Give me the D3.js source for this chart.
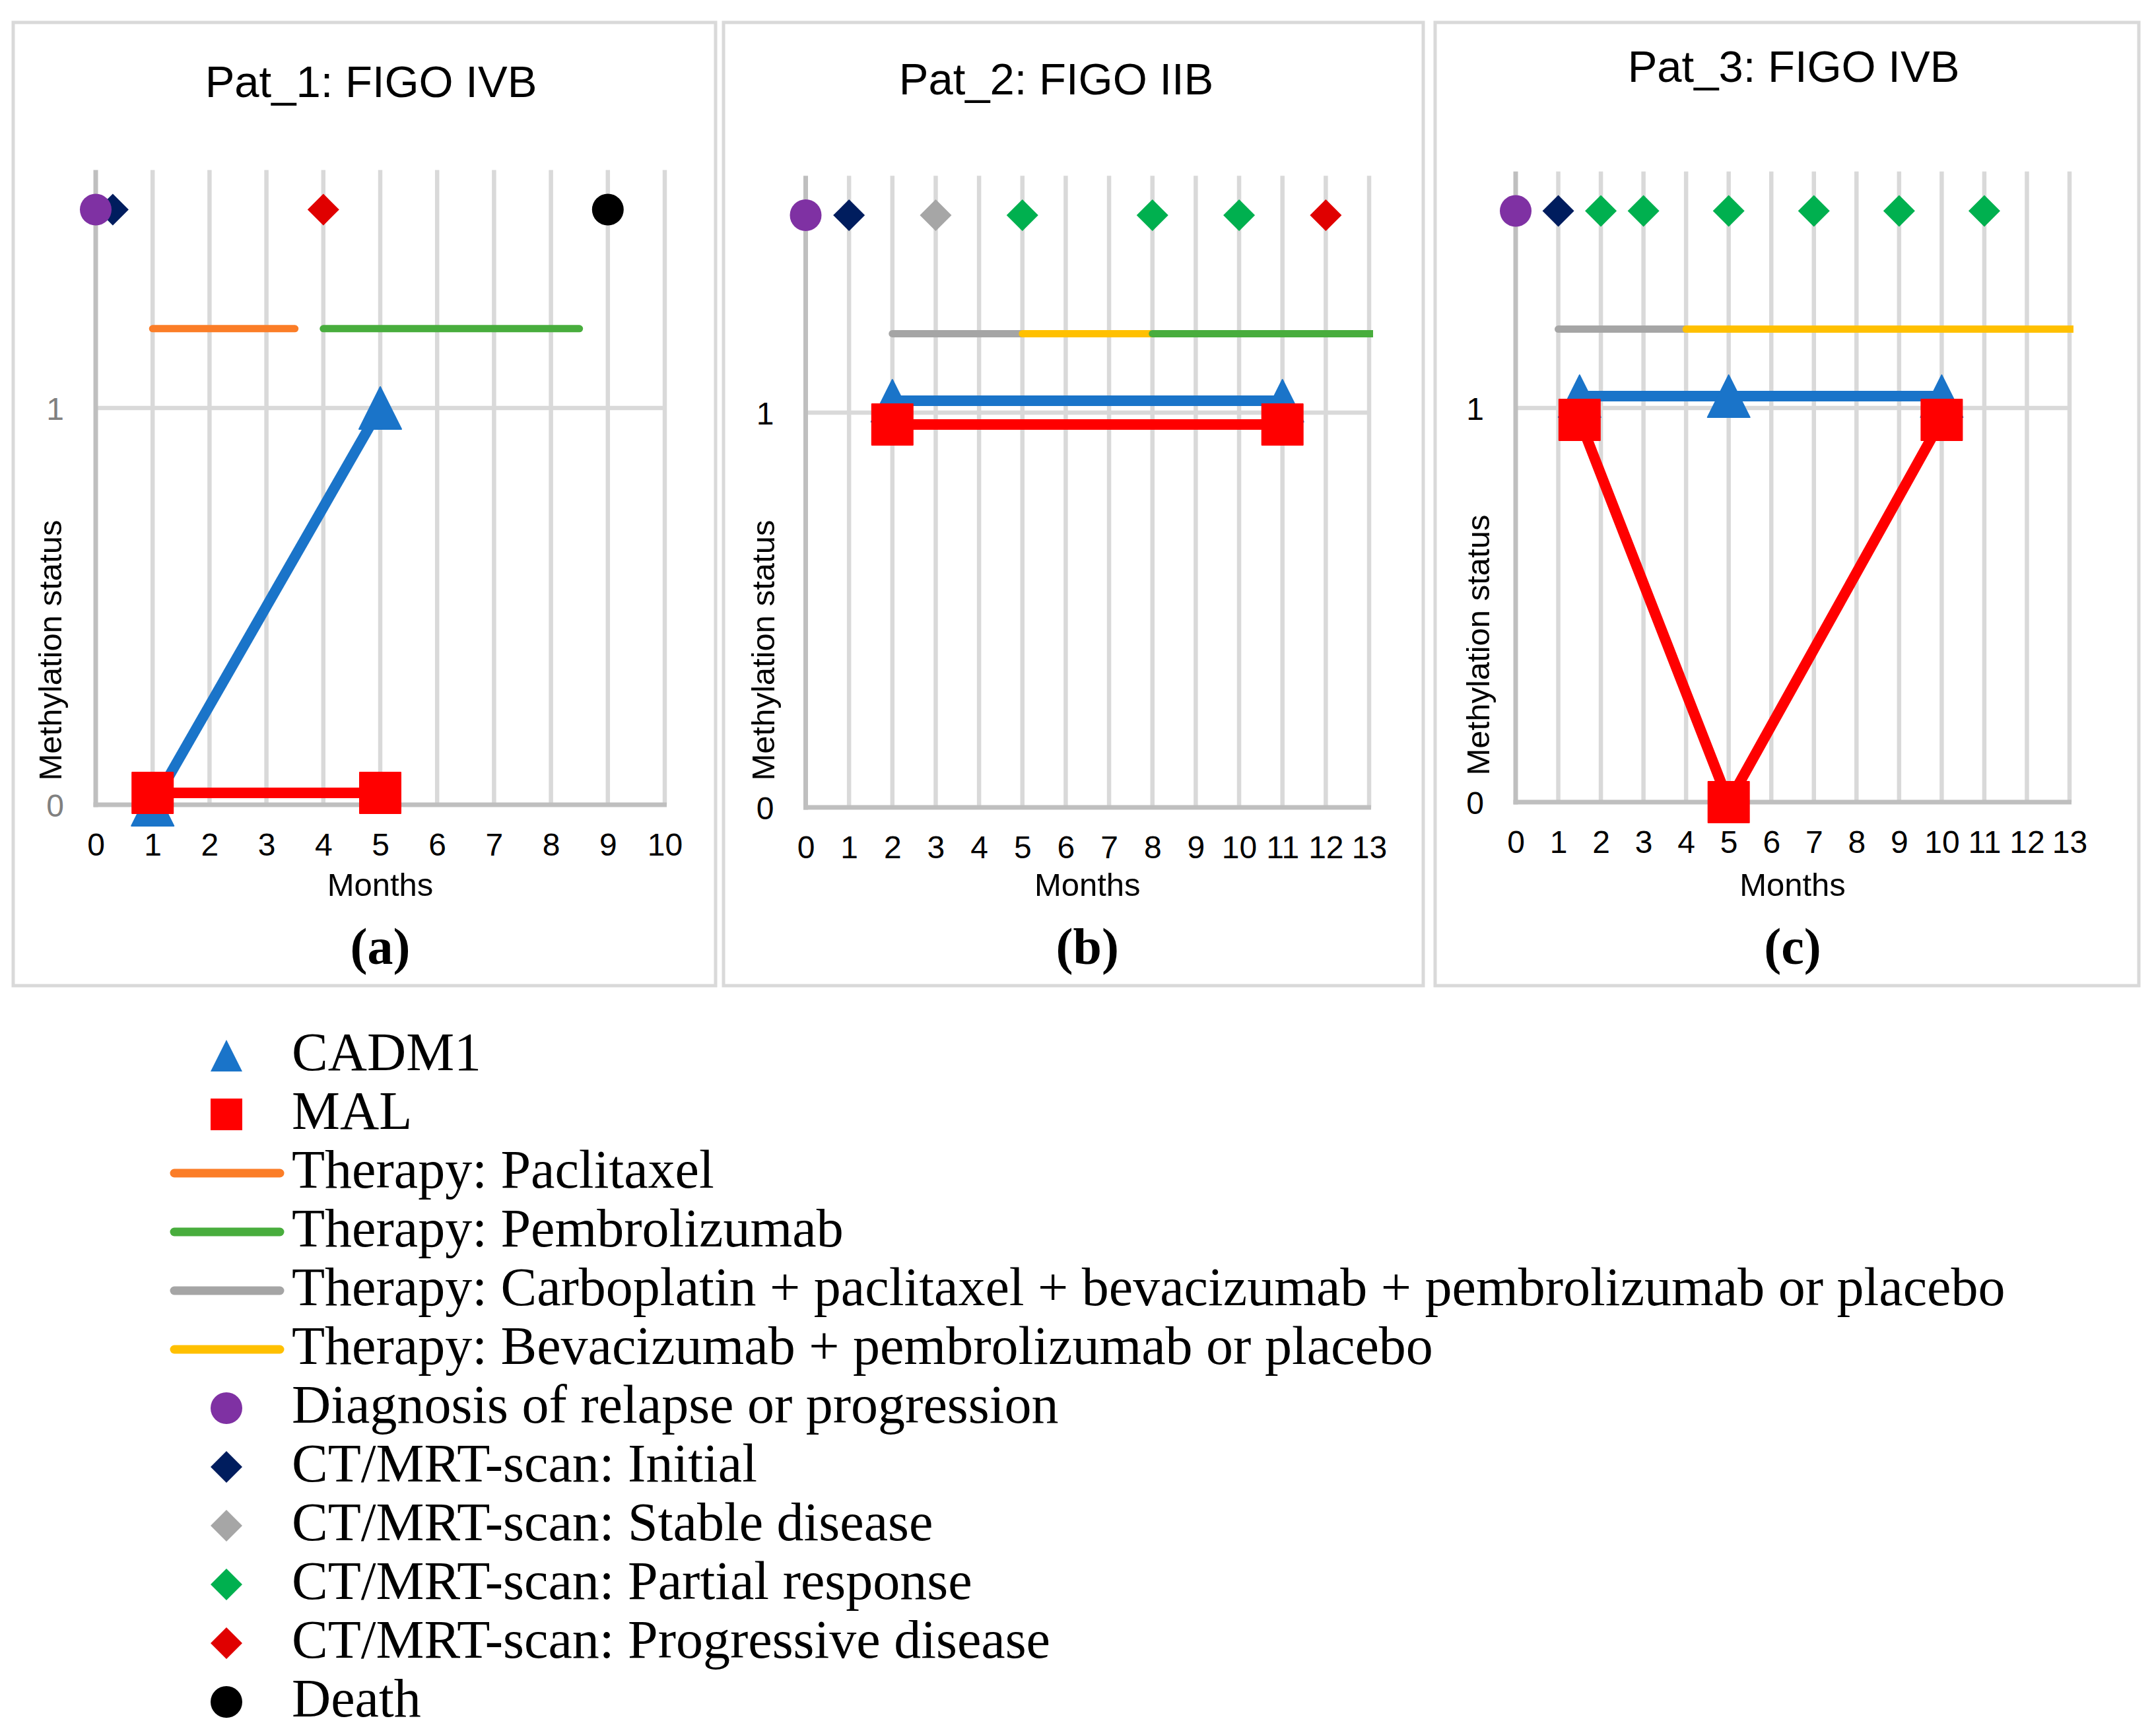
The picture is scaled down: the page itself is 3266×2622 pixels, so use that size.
<!DOCTYPE html>
<html><head><meta charset="utf-8">
<script src="https://cdn.jsdelivr.net/npm/d3@7"></script>
<style>body{margin:0;background:#fff}</style>
</head><body>
<svg id="chart" width="3266" height="2622"></svg>
<script>
// ---------- data ----------
const titles = ["Pat_1: FIGO IVB", "Pat_2: FIGO IIB", "Pat_3: FIGO IVB"];
const panelLabels = ["(a)", "(b)", "(c)"];
const xMaxMonths = [10, 13, 13];
const yTickValues = [0, 1];
const xAxisTitle = "Months";
const yAxisTitle = "Methylation status";

const cadm1Months = [[1, 5], [2, 11], [1.5, 5, 10]];
const cadm1Status = [[0, 1], [1.03, 1.03], [1.03, 1.03, 1.03]];
const malMonths = [[1, 5], [2, 11], [1.5, 5, 10]];
const malStatus = [[0.03, 0.03], [0.97, 0.97], [0.97, 0, 0.97]];

const therapyLevel = 1.2;
const therapyStart = [[1, 4], [2, 5, 8], [1, 4]];
const therapyEnd = [[3.5, 8.5], [5, 8, 13.3], [4, 13.3]];
const therapyKind = [
  ["paclitaxel", "pembrolizumab"],
  ["carboplatin", "bevacizumab", "pembrolizumab"],
  ["carboplatin", "bevacizumab"]
];

const eventLevel = 1.5;
const eventMonths = [[0, 0.3, 4, 9], [0, 1, 3, 5, 8, 10, 12], [0, 1, 2, 3, 5, 7, 9, 11]];
const eventKind = [
  ["diagnosis", "initial", "progressive", "death"],
  ["diagnosis", "initial", "stable", "partial", "partial", "partial", "progressive"],
  ["diagnosis", "initial", "partial", "partial", "partial", "partial", "partial", "partial"]
];
const yTop = 1.6;

const legendKeys = ["cadm1", "mal", "paclitaxel", "pembrolizumab", "carboplatin", "bevacizumab",
  "diagnosis", "initial", "stable", "partial", "progressive", "death"];
const legendLabels = ["CADM1", "MAL", "Therapy: Paclitaxel", "Therapy: Pembrolizumab",
  "Therapy: Carboplatin + paclitaxel + bevacizumab + pembrolizumab or placebo",
  "Therapy: Bevacizumab + pembrolizumab or placebo",
  "Diagnosis of relapse or progression", "CT/MRT-scan: Initial", "CT/MRT-scan: Stable disease",
  "CT/MRT-scan: Partial response", "CT/MRT-scan: Progressive disease", "Death"];

// ---------- styles ----------
const color = {
  cadm1: "#1a74c9", mal: "#ff0000",
  paclitaxel: "#fb7d27", pembrolizumab: "#48ad3d", carboplatin: "#a5a5a5", bevacizumab: "#ffc000",
  diagnosis: "#7f31a3", initial: "#001d5e", stable: "#a6a6a6", partial: "#00b04f",
  progressive: "#e00000", death: "#000000"
};
const shape = {
  cadm1: "triangle", mal: "square",
  paclitaxel: "line", pembrolizumab: "line", carboplatin: "line", bevacizumab: "line",
  diagnosis: "circle", initial: "diamond", stable: "diamond", partial: "diamond",
  progressive: "diamond", death: "circle"
};

const layout = [
  {frame: [20, 34, 1084, 1493], x0: 145, x1: 1007, y0: 1219, y1: 618, titleX: 562, titleY: 147, yTitleX: 93, yTitleY: 985, tickColor: "#808080"},
  {frame: [1096, 34, 2156, 1493], x0: 1220.5, x1: 2074, y0: 1223, y1: 625, titleX: 1600, titleY: 143, yTitleX: 1173, yTitleY: 985, tickColor: "#000000"},
  {frame: [2174, 34, 3240, 1493], x0: 2296, x1: 3135, y0: 1215, y1: 618, titleX: 2717, titleY: 124, yTitleX: 2256, yTitleY: 977, tickColor: "#000000"}
];

const SANS = "'Liberation Sans', Arial, sans-serif";
const SERIF = "'Liberation Serif', 'Times New Roman', serif";
const svg = d3.select("#chart");
svg.append("rect").attr("width", 3266).attr("height", 2622).attr("fill", "#fff");

function markerPath(kind, cx, cy, s) {
  const h = s / 2;
  const p = d3.path();
  const sh = shape[kind];
  if (sh === "triangle") {
    p.moveTo(cx, cy - h); p.lineTo(cx + h, cy + h); p.lineTo(cx - h, cy + h); p.closePath();
  } else if (sh === "square") {
    p.rect(cx - h, cy - h, s, s);
  } else if (sh === "diamond") {
    p.moveTo(cx, cy - h); p.lineTo(cx + h, cy); p.lineTo(cx, cy + h); p.lineTo(cx - h, cy); p.closePath();
  } else if (sh === "circle") {
    p.moveTo(cx + h, cy); p.arc(cx, cy, h, 0, 2 * Math.PI);
  }
  return p.toString();
}

const defs = svg.append("defs");

titles.forEach((title, i) => {
  const L = layout[i];
  const g = svg.append("g");
  const x = d3.scaleLinear().domain([0, xMaxMonths[i]]).range([L.x0, L.x1]);
  const y = d3.scaleLinear().domain([0, 1]).range([L.y0, L.y1]);

  // frame
  g.append("rect").attr("x", L.frame[0]).attr("y", L.frame[1])
    .attr("width", L.frame[2] - L.frame[0]).attr("height", L.frame[3] - L.frame[1])
    .attr("fill", "none").attr("stroke", "#d9d9d9").attr("stroke-width", 5);

  // vertical gridlines
  const months = d3.range(0, xMaxMonths[i] + 1);
  g.selectAll(".vgrid").data(months.filter(m => m > 0)).join("line")
    .attr("x1", d => x(d)).attr("x2", d => x(d))
    .attr("y1", y(yTop)).attr("y2", y(0))
    .attr("stroke", "#d9d9d9").attr("stroke-width", 6.5);
  // horizontal gridline at 1
  g.selectAll(".hgrid").data(yTickValues.filter(v => v > 0)).join("line")
    .attr("x1", x(0)).attr("x2", x(xMaxMonths[i]))
    .attr("y1", d => y(d)).attr("y2", d => y(d))
    .attr("stroke", "#d9d9d9").attr("stroke-width", 6.5);
  // axis lines
  g.append("line").attr("x1", x(0)).attr("x2", x(0)).attr("y1", y(yTop)).attr("y2", y(0) + 3.5)
    .attr("stroke", "#bfbfbf").attr("stroke-width", 7);
  g.append("line").attr("x1", x(0) - 3.5).attr("x2", x(xMaxMonths[i]) + 3).attr("y1", y(0)).attr("y2", y(0))
    .attr("stroke", "#bfbfbf").attr("stroke-width", 7);

  // x tick labels via d3 axis
  const xAxis = d3.axisBottom(x).tickValues(months).tickSize(0).tickPadding(0).tickFormat(d3.format("d"));
  const xa = g.append("g").attr("transform", `translate(0,${y(0) + 77})`).call(xAxis);
  xa.select(".domain").remove();
  xa.selectAll("text").attr("dy", 0).attr("y", 0)
    .attr("font-family", SANS).attr("font-size", 48).attr("fill", "#000");

  // y tick labels via d3 axis
  const yAxis = d3.axisLeft(y).tickValues(yTickValues).tickSize(0).tickPadding(48).tickFormat(d3.format("d"));
  const ya = g.append("g").attr("transform", `translate(${x(0)},0)`).call(yAxis);
  ya.select(".domain").remove();
  ya.selectAll("text").attr("font-family", SANS).attr("font-size", 48).attr("fill", L.tickColor).attr("dy", "0.36em");

  // titles
  g.append("text").attr("x", L.titleX).attr("y", L.titleY).attr("text-anchor", "middle")
    .attr("font-family", SANS).attr("font-size", 67).attr("fill", "#000").text(title);
  g.append("text").attr("x", (L.x0 + L.x1) / 2).attr("y", 1357).attr("text-anchor", "middle")
    .attr("font-family", SANS).attr("font-size", 49).attr("fill", "#000").text(xAxisTitle);
  g.append("text").attr("transform", `translate(${L.yTitleX},${L.yTitleY}) rotate(-90)`)
    .attr("text-anchor", "middle")
    .attr("font-family", SANS).attr("font-size", 49).attr("fill", "#000").text(yAxisTitle);
  g.append("text").attr("x", (L.x0 + L.x1) / 2).attr("y", 1460).attr("text-anchor", "middle")
    .attr("font-family", SERIF).attr("font-weight", "bold").attr("font-size", 78).attr("fill", "#000")
    .text(panelLabels[i]);

  // therapy lines (clipped at right plot edge)
  const clipId = "clip" + i;
  defs.append("clipPath").attr("id", clipId).append("rect")
    .attr("x", L.frame[0]).attr("y", L.frame[1])
    .attr("width", x(xMaxMonths[i]) + 6 - L.frame[0]).attr("height", L.frame[3] - L.frame[1]);
  const tg = g.append("g").attr("clip-path", `url(#${clipId})`);
  therapyStart[i].forEach((s, k) => {
    tg.append("line").attr("x1", x(s)).attr("x2", x(therapyEnd[i][k]))
      .attr("y1", y(therapyLevel)).attr("y2", y(therapyLevel))
      .attr("stroke", color[therapyKind[i][k]]).attr("stroke-width", 11).attr("stroke-linecap", "round");
  });

  // events: diamonds first, circles on top
  const ev = eventMonths[i].map((m, k) => ({m, kind: eventKind[i][k]}));
  const evSorted = ev.filter(e => shape[e.kind] === "diamond").concat(ev.filter(e => shape[e.kind] === "circle"));
  g.selectAll(".ev").data(evSorted).join("path")
    .attr("d", d => markerPath(d.kind, x(d.m), y(eventLevel), 48))
    .attr("fill", d => color[d.kind]);

  // CADM1 series
  const line = d3.line().x(d => x(d[0])).y(d => y(d[1]));
  const cad = cadm1Months[i].map((m, k) => [m, cadm1Status[i][k]]);
  g.append("path").attr("d", line(cad)).attr("fill", "none")
    .attr("stroke", color.cadm1).attr("stroke-width", 16).attr("stroke-linejoin", "round");
  g.selectAll(".cad").data(cad).join("path")
    .attr("d", d => markerPath("cadm1", x(d[0]), y(d[1]), 64))
    .attr("fill", color.cadm1).attr("stroke", color.cadm1).attr("stroke-width", 2).attr("stroke-linejoin", "round");

  // MAL series
  const mal = malMonths[i].map((m, k) => [m, malStatus[i][k]]);
  g.append("path").attr("d", line(mal)).attr("fill", "none")
    .attr("stroke", color.mal).attr("stroke-width", 16).attr("stroke-linejoin", "round");
  g.selectAll(".mal").data(mal).join("path")
    .attr("d", d => markerPath("mal", x(d[0]), y(d[1]), 62))
    .attr("fill", color.mal).attr("stroke", color.mal).attr("stroke-width", 2).attr("stroke-linejoin", "round");
});

// ---------- legend ----------
const lg = svg.append("g");
const rowY = d3.scaleLinear().domain([0, legendKeys.length - 1]).range([1599, 2578]);
legendKeys.forEach((key, i) => {
  const cy = rowY(i);
  if (shape[key] === "line") {
    lg.append("line").attr("x1", 264).attr("x2", 424).attr("y1", cy).attr("y2", cy)
      .attr("stroke", color[key]).attr("stroke-width", 13).attr("stroke-linecap", "round");
  } else {
    lg.append("path").attr("d", markerPath(key, 343, cy, 48)).attr("fill", color[key]);
  }
  lg.append("text").attr("x", 442).attr("y", cy + 22)
    .attr("font-family", SERIF).attr("font-size", 82).attr("fill", "#000").text(legendLabels[i]);
});
</script>
</body></html>
